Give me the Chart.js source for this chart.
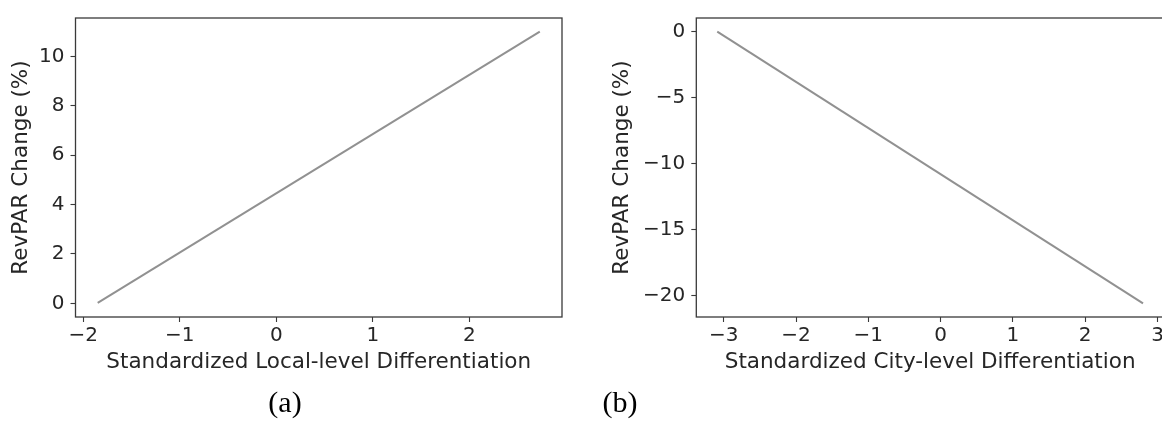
<!DOCTYPE html>
<html>
<head>
<meta charset="utf-8">
<script src="https://cdn.jsdelivr.net/npm/chart.js@4/dist/chart.umd.min.js"></script>
<style>
  html, body { margin: 0; padding: 0; background: #fff; overflow: hidden; }
  body { width: 1162px; height: 421px; position: relative; }
  .box { position: absolute; top: 0; height: 421px; }
  .cap { position: absolute; font-family: "Liberation Serif", serif; font-size: 30px; line-height: 30px; color: #000; transform: translateX(-50%); }
</style>
</head>
<body>
<div class="box" style="left:0; width:580px;"><canvas id="chartA"></canvas></div>
<div class="box" style="left:600px; width:580px;"><canvas id="chartB"></canvas></div>
<div class="cap" style="left:285px; top:387px;">(a)</div>
<div class="cap" style="left:620px; top:387px;">(b)</div>
<script>
// Panel (a): local-level differentiation
const localX = [-1.85, 2.73];
const localY = [0.02, 11.0];
const localXTicks = [-2, -1, 0, 1, 2];
const localYTicks = [0, 2, 4, 6, 8, 10];

// Panel (b): city-level differentiation
const cityX = [-3.09, 2.80];
const cityY = [0.0, -20.6];
const cityXTicks = [-3, -2, -1, 0, 1, 2, 3];
const cityYTicks = [0, -5, -10, -15, -20];

const yTitle = 'RevPAR Change (%)';
const localTitle = 'Standardized Local-level Differentiation';
const cityTitle = 'Standardized City-level Differentiation';

const FONT = 'DejaVu Sans';
const TEXT = '#262626';
const FRAME = '#3a3a3a';

// matplotlib uses a real minus sign
function fmt(v) {
    return v < 0 ? '\u2212' + Math.abs(v) : String(v);
}

// draw the full box around the plot area like matplotlib spines
const framePlugin = {
    id: 'frame',
    afterDatasetsDraw(chart) {
        const a = chart.chartArea;
        const ctx = chart.ctx;
        ctx.save();
        ctx.strokeStyle = FRAME;
        ctx.lineWidth = 1.3;
        ctx.strokeRect(a.left, a.top, a.right - a.left, a.bottom - a.top);
        ctx.restore();
    }
};

function makeChart(id, xs, ys, xTicks, yTicks, xRange, yRange, xLabel, yAxisWidth, yTitlePad, rightPad) {
    const points = xs.map((x, i) => ({ x: x, y: ys[i] }));
    const ctx = document.getElementById(id).getContext('2d');
    return new Chart(ctx, {
        type: 'line',
        data: {
            datasets: [{
                data: points,
                borderColor: '#919191',
                borderWidth: 2,
                pointRadius: 0,
                fill: false,
                tension: 0
            }]
        },
        options: {
            responsive: true,
            maintainAspectRatio: false,
            animation: false,
            layout: { padding: { top: 16, left: 0, right: rightPad, bottom: 0 } },
            plugins: { legend: { display: false }, tooltip: { enabled: false } },
            scales: {
                x: {
                    type: 'linear',
                    min: xRange[0],
                    max: xRange[1],
                    afterBuildTicks: s => { s.ticks = xTicks.map(v => ({ value: v })); },
                    afterFit: s => { s.height = 104; },
                    border: { display: false },
                    grid: { drawOnChartArea: false, drawTicks: true, tickLength: 5, color: FRAME, tickWidth: 1.1 },
                    ticks: { callback: fmt, color: TEXT, font: { family: FONT, size: 20 }, padding: 2, maxRotation: 0 },
                    title: { display: true, text: xLabel, color: TEXT, font: { family: FONT, size: 21.5 }, padding: { top: 0, bottom: 46 } }
                },
                y: {
                    type: 'linear',
                    min: yRange[0],
                    max: yRange[1],
                    afterBuildTicks: s => { s.ticks = yTicks.map(v => ({ value: v })); },
                    afterFit: s => { s.width = yAxisWidth; },
                    border: { display: false },
                    grid: { drawOnChartArea: false, drawTicks: true, tickLength: 5, color: FRAME, tickWidth: 1.1 },
                    ticks: { callback: fmt, color: TEXT, font: { family: FONT, size: 20 }, padding: 6 },
                    title: { display: true, text: yTitle, color: TEXT, font: { family: FONT, size: 21.5 }, padding: { top: yTitlePad, bottom: 0 } }
                }
            }
        },
        plugins: [framePlugin]
    });
}

makeChart('chartA', localX, localY, localXTicks, localYTicks, [-2.08, 2.96], [-0.55, 11.55], localTitle, 75.5, 9, 18);
makeChart('chartB', cityX, cityY, cityXTicks, cityYTicks, [-3.38, 3.09], [-21.63, 1.03], cityTitle, 96.3, 10, 16);
</script>
</body>
</html>
